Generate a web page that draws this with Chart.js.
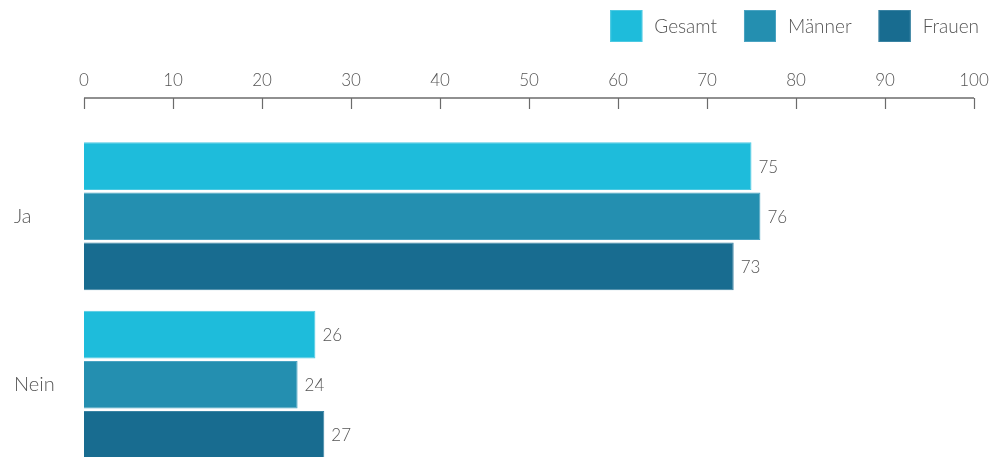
<!DOCTYPE html>
<html>
<head>
<meta charset="utf-8">
<script src="https://cdn.jsdelivr.net/npm/chart.js@4/dist/chart.umd.min.js"></script>
<style>
html,body{margin:0;padding:0;background:#fff;overflow:hidden;}
#wrap{position:relative;width:990px;height:481px;}
</style>
</head>
<body>
<div id="wrap"><canvas id="c"></canvas></div>
<script>
const categories = ["Ja", "Nein"];
const seriesNames = ["Gesamt", "Männer", "Frauen"];
const gesamt = [75, 26];
const maenner = [76, 24];
const frauen = [73, 27];
const xTicks = [0, 10, 20, 30, 40, 50, 60, 70, 80, 90, 100];

const colors = ["#1ebcdb", "#248fb0", "#186c90"];
const borders = ["#4cc9e2", "#4aa3c2", "#3a83a3"];
const FONT = "Lato, 'Open Sans', sans-serif";
const TEXT = "#555555";

const axisPlugin = {
  id: "topAxis",
  afterDraw(chart) {
    const ctx = chart.ctx, xs = chart.scales.x;
    const y0 = chart.chartArea.top - 34;
    ctx.save();
    ctx.strokeStyle = "#6b6b6b";
    ctx.lineWidth = 1.5;
    ctx.beginPath();
    ctx.moveTo(xs.getPixelForValue(xTicks[0]), y0);
    ctx.lineTo(xs.getPixelForValue(xTicks[xTicks.length - 1]), y0);
    ctx.stroke();
    ctx.lineWidth = 1.2;
    xTicks.forEach(v => {
      const px = Math.round(xs.getPixelForValue(v)) + 0.5;
      ctx.beginPath();
      ctx.moveTo(px, y0);
      ctx.lineTo(px, y0 + 11);
      ctx.stroke();
    });
    ctx.restore();
  }
};

const legendPlugin = {
  id: "customLegend",
  afterDraw(chart) {
    const ctx = chart.ctx;
    ctx.save();
    ctx.font = "300 19px " + FONT;
    ctx.textBaseline = "middle";
    ctx.textAlign = "left";
    const box = 32, gapText = 12, gapItem = 27, top = 10;
    let x = chart.chartArea.right + 5;
    const items = chart.data.datasets.map((ds, i) => ({ text: ds.label, color: colors[i], border: borders[i] }));
    for (let i = items.length - 1; i >= 0; i--) {
      const it = items[i];
      const tw = ctx.measureText(it.text).width;
      const tx = x - tw;
      const bx = tx - gapText - box;
      ctx.fillStyle = it.color;
      ctx.fillRect(bx, top, box, box);
      ctx.strokeStyle = it.border;
      ctx.lineWidth = 1;
      ctx.strokeRect(bx + 0.5, top + 0.5, box - 1, box - 1);
      ctx.fillStyle = TEXT;
      ctx.fillText(it.text, tx, top + box / 2 + 1);
      x = bx - gapItem;
    }
    ctx.restore();
  }
};

const valuePlugin = {
  id: "values",
  afterDatasetsDraw(chart) {
    const ctx = chart.ctx;
    ctx.save();
    ctx.font = "300 17px " + FONT;
    ctx.fillStyle = TEXT;
    ctx.textAlign = "left";
    ctx.textBaseline = "middle";
    chart.data.datasets.forEach((ds, i) => {
      chart.getDatasetMeta(i).data.forEach((el, j) => {
        ctx.fillText(String(ds.data[j]), el.x + 7, el.y + 1);
      });
    });
    ctx.restore();
  }
};

new Chart(document.getElementById("c"), {
  type: "bar",
  data: {
    labels: categories,
    datasets: [
      { label: seriesNames[0], data: gesamt, backgroundColor: colors[0], borderColor: borders[0], borderWidth: 1 },
      { label: seriesNames[1], data: maenner, backgroundColor: colors[1], borderColor: borders[1], borderWidth: 1 },
      { label: seriesNames[2], data: frauen, backgroundColor: colors[2], borderColor: borders[2], borderWidth: 1 }
    ]
  },
  options: {
    indexAxis: "y",
    responsive: true,
    maintainAspectRatio: false,
    animation: false,
    layout: { padding: { left: 14, right: 16, top: 0, bottom: 2 } },
    datasets: { bar: { categoryPercentage: 0.893, barPercentage: 0.95 } },
    scales: {
      x: {
        position: "top",
        min: 0, max: 100,
        afterBuildTicks(scale) { scale.ticks = xTicks.map(v => ({ value: v })); },
        afterFit(scale) { scale.height = 132; scale.paddingLeft = 0; scale.paddingRight = 16; },
        grid: { display: false, drawTicks: false },
        border: { display: false },
        ticks: { color: TEXT, font: { family: FONT, size: 17, weight: 300 }, padding: 41 }
      },
      y: {
        grid: { display: false, drawTicks: false },
        border: { display: false },
        afterFit(scale) { scale.width = 70; },
        ticks: { color: TEXT, crossAlign: "far", padding: 0, font: { family: FONT, size: 20, weight: 300 } }
      }
    },
    plugins: {
      legend: { display: false },
      tooltip: { enabled: false }
    }
  },
  plugins: [axisPlugin, valuePlugin, legendPlugin]
});
</script>
</body>
</html>
